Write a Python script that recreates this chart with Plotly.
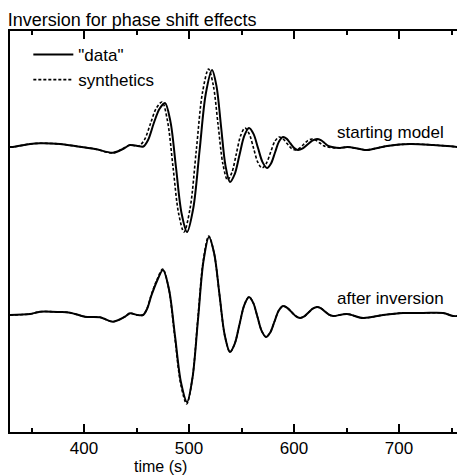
import plotly.graph_objects as go

# ---- data (time in s, amplitude in arbitrary units) ----
START_DATA_T = [329.5, 332.4, 348.6, 358.1, 377.1, 391.4, 410.5, 427.6, 437.1, 443.8, 451.0, 456.5,
                461.0, 466.5, 471.8, 477.1, 482.35, 487.6, 492.85, 498.1, 504.05, 510.0, 515.95, 521.9,
                526.2, 530.45, 534.7, 539.0, 543.5, 548.05, 552.6, 557.1, 561.4, 565.7, 570.0, 574.3,
                578.1, 581.9, 585.7, 589.5, 593.1, 596.65, 600.2, 603.8, 608.3, 612.85, 617.4, 621.9,
                625.5, 629.05, 632.6, 636.2, 643.8, 650.5, 662.9, 669.5, 688.6, 710.5, 732.4, 745.7,
                756.0]
START_DATA_A = [0, 0, 0.3, 0.37, 0.3, 0.1, -0.2, -0.57, -0.2, 0.2, 0.1, 0.05,
                0.7, 2.4, 3.8, 4.4, 2.51, -2.05, -6.61, -8.5, -6.13, -0.4, 5.33, 7.7,
                6.06, 2.1, -1.86, -3.5, -2.71, -0.8, 1.11, 1.9, 1.31, -0.1, -1.51, -2.1,
                -1.65, -0.55, 0.55, 1.0, 0.81, 0.35, -0.11, -0.3, -0.14, 0.25, 0.64, 0.8,
                0.68, 0.4, 0.12, 0.0, -0.1, 0, -0.2, -0.3, 0.1, 0.3, 0.2, 0.1,
                0]

START_SYN_T = [329.5, 332.4, 348.6, 358.1, 377.1, 391.4, 410.5, 427.6, 437.1, 443.8, 452.0,
               457.6, 463.15, 468.7, 474.3, 479.5, 484.75, 490.0, 495.2, 501.05, 506.9, 512.75, 518.6,
               523.1, 527.65, 532.2, 536.7, 540.85, 545.0, 549.15, 553.3, 557.35, 561.4, 565.45, 569.5,
               573.55, 577.6, 581.65, 585.7, 589.5, 593.35, 597.2, 601.0, 605.0, 609.05, 613.1, 617.1,
               620.8, 624.55, 628.3, 632.0, 643.8, 650.5, 662.9, 669.5, 688.6, 710.5, 732.4, 745.7,
               756.0]
START_SYN_A = [0, 0, 0.3, 0.37, 0.3, 0.1, -0.2, -0.6, -0.15, 0.2, 0.1,
               0.74, 2.3, 3.86, 4.5, 2.6, -2.0, -6.6, -8.5, -6.11, -0.35, 5.41, 7.8,
               6.17, 2.25, -1.67, -3.3, -2.54, -0.7, 1.14, 1.9, 1.31, -0.1, -1.51, -2.1,
               -1.65, -0.55, 0.55, 1.0, 0.81, 0.35, -0.11, -0.3, -0.14, 0.25, 0.64, 0.8,
               0.68, 0.4, 0.12, 0.0, -0.1, 0, -0.2, -0.3, 0.1, 0.3, 0.2, 0.1,
               0]

AFTER_DATA_T = [329.5, 348.6, 358.1, 377.1, 386.7, 400.9, 415.2, 427.6, 439.0, 443.8, 450.5, 456.2,
                460.0, 464.0, 469.5, 475.2, 480.9, 486.65, 492.4, 498.1, 503.3, 508.55, 513.75, 519.0,
                524.0, 529.0, 534.0, 539.0, 543.5, 548.05, 552.6, 557.1, 561.15, 565.2, 569.25, 573.3,
                577.35, 581.4, 585.45, 589.5, 593.55, 597.6, 601.65, 605.7, 609.75, 613.8, 617.85, 621.9,
                625.7, 629.5, 633.3, 637.1, 650.5, 665.7, 684.8, 703.8, 722.9, 741.9, 751.4, 756.0]
AFTER_DATA_A = [0, 0.1, 0.33, 0.3, 0.23, -0.17, -0.23, -0.67, -0.17, 0.17, 0.0, 0.0,
                0.6, 1.9, 3.4, 4.5, 2.57, -2.1, -6.77, -8.7, -6.28, -0.45, 5.38, 7.8,
                6.12, 2.05, -2.02, -3.7, -2.89, -0.95, 0.99, 1.8, 1.21, -0.2, -1.61, -2.2,
                -1.75, -0.65, 0.45, 0.9, 0.72, 0.3, -0.12, -0.3, -0.14, 0.25, 0.64, 0.8,
                0.67, 0.35, 0.03, -0.1, 0.1, -0.3, 0, 0.2, 0.2, 0.2, -0.1, -0.1]

AFTER_SYN_T = [329.5, 348.6, 358.1, 377.1, 386.7, 400.9, 415.2, 427.6, 439.0, 443.8, 450.5, 456.2,
               460.0, 464.0, 469.4, 475.0, 480.7, 486.4, 492.1, 497.8, 503.05, 508.3, 513.55, 518.8,
               523.85, 528.9, 533.95, 539.0, 543.5, 548.05, 552.6, 557.1, 561.15, 565.2, 569.25, 573.3,
               577.35, 581.4, 585.45, 589.5, 593.55, 597.6, 601.65, 605.7, 609.75, 613.8, 617.85, 621.9,
               625.7, 629.5, 633.3, 637.1, 650.5, 665.7, 684.8, 703.8, 722.9, 741.9, 751.4, 756.0]
AFTER_SYN_A = [0, 0.1, 0.33, 0.3, 0.23, -0.17, -0.23, -0.67, -0.17, 0.17, 0.0, 0.0,
               0.65, 2.0, 3.5, 4.6, 2.62, -2.15, -6.92, -8.9, -6.44, -0.5, 5.44, 7.9,
               6.2, 2.1, -2.0, -3.7, -2.89, -0.95, 0.99, 1.8, 1.21, -0.2, -1.61, -2.2,
               -1.75, -0.65, 0.45, 0.9, 0.72, 0.3, -0.12, -0.3, -0.14, 0.25, 0.64, 0.8,
               0.67, 0.35, 0.03, -0.1, 0.1, -0.3, 0, 0.2, 0.2, 0.2, -0.1, -0.1]

TRACE_OFFSETS = {"starting model": 16.8, "after inversion": 0.0}
X_TICKS = [400, 500, 600, 700]
X_MINOR_TICKS = [350, 450, 550, 650, 750]

FONT = "Liberation Sans, Arial, Helvetica, sans-serif"

fig = go.Figure()

def add(t, a, off, dashed, name, show):
    fig.add_trace(go.Scatter(
        x=t, y=[v + off for v in a], mode="lines",
        line=dict(color="black", width=1.6 if dashed else 2.0,
                  dash="3px,2px" if dashed else "solid", shape="spline", smoothing=0.9),
        name=name, showlegend=show, legendgroup=name))

off_s = TRACE_OFFSETS["starting model"]
off_a = TRACE_OFFSETS["after inversion"]
add(START_DATA_T, START_DATA_A, off_s, False, '"data"', True)
add(START_SYN_T, START_SYN_A, off_s, True, "synthetics", True)
add(AFTER_DATA_T, AFTER_DATA_A, off_a, False, '"data"', False)
add(AFTER_SYN_T, AFTER_SYN_A, off_a, True, "synthetics", False)

fig.add_annotation(x=691.5, y=off_s + 1.5, xref="x", yref="y", text="starting model",
                   showarrow=False, font=dict(size=17, color="black", family=FONT))
fig.add_annotation(x=691.5, y=off_a + 1.7, xref="x", yref="y", text="after inversion",
                   showarrow=False, font=dict(size=17, color="black", family=FONT))
fig.add_annotation(x=472.4, y=-0.086, xref="x", yref="paper", text="time (s)",
                   showarrow=False, yanchor="middle", xanchor="center",
                   font=dict(size=16, color="black", family=FONT))

fig.update_layout(
    width=457, height=475,
    margin=dict(l=10, r=0, t=31, b=43),
    paper_bgcolor="white", plot_bgcolor="white",
    font=dict(family=FONT, size=17, color="black"),
    title=dict(text="Inversion for phase shift effects", x=0.017, xanchor="left",
               y=1 - 19.5 / 475, yanchor="middle", font=dict(size=18, color="black", family=FONT)),
    showlegend=True,
    legend=dict(x=0.041, y=0.985, xanchor="left", yanchor="top", bgcolor="rgba(0,0,0,0)",
                font=dict(size=17, family=FONT, color="black"), itemwidth=40, tracegroupgap=0),
    xaxis=dict(range=[329.5, 755.2], tickvals=X_TICKS, ticks="inside", ticklen=8, tickwidth=1.5,
               tickcolor="black", showline=True, linecolor="black", linewidth=2, mirror="ticks",
               showgrid=False, zeroline=False, tickfont=dict(size=17, family=FONT, color="black"),
               minor=dict(tickvals=X_MINOR_TICKS, ticks="inside", ticklen=4,
                          tickcolor="black", tickwidth=1.5)),
    yaxis=dict(range=[-11.7, 28.4], showticklabels=False, ticks="", showline=True,
               linecolor="black", linewidth=2, mirror=False, showgrid=False, zeroline=False),
)

fig.write_html("out.html")
